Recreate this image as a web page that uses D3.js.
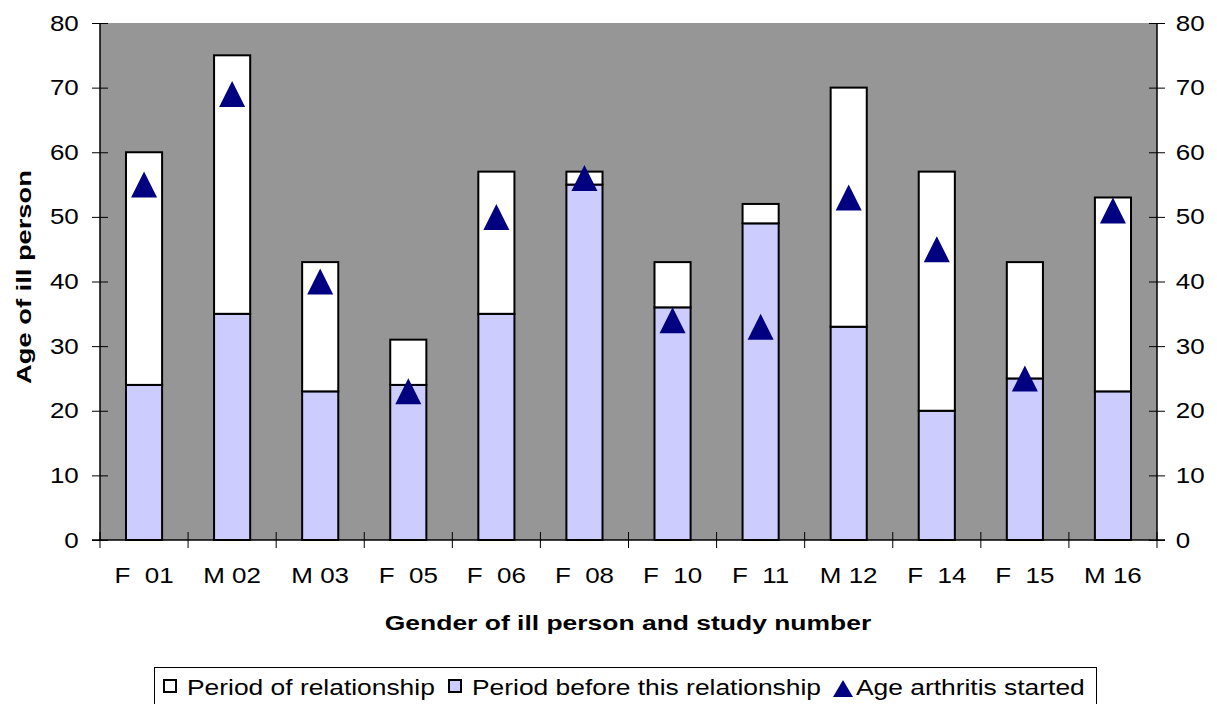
<!DOCTYPE html>
<html><head><meta charset="utf-8">
<script src="https://cdn.jsdelivr.net/npm/d3@7/dist/d3.min.js"></script>
<style>body{margin:0;background:#fff}svg{display:block}text{font-family:"Liberation Sans",Arial,sans-serif;fill:#000}</style>
</head><body><svg id="c" width="1217" height="704"></svg>
<script>
const categories = ["F  01","M 02","M 03","F  05","F  06","F  08","F  10","F  11","M 12","F  14","F  15","M 16"];
const periodBefore = [24,35,23,24,35,55,36,49,33,20,25,23];
const periodRelationship = [36,40,20,7,22,2,7,3,37,37,18,30];
const ageArthritis = [55,69,40,23,50,56,34,33,53,45,25,51];
const yTicks = [0,10,20,30,40,50,60,70,80];
const legendLabels = ["Period of relationship","Period before this relationship","Age arthritis started"];

const SX = 1.18; // horizontal text stretch seen in the reference
const svg = d3.select("#c");
const L=100,R=1157,T=23,B=540;
const x = d3.scaleBand().domain(categories).range([L,R]).paddingInner(0.59).paddingOuter(0.295);
const y = d3.scaleLinear().domain([0,80]).range([B,T]);

function triSymbol(w,h){return {draw(ctx){ctx.moveTo(0,-h/2);ctx.lineTo(w/2,h/2);ctx.lineTo(-w/2,h/2);ctx.closePath();}};}

svg.append("rect").attr("x",L).attr("y",T).attr("width",R-L).attr("height",B-T).attr("fill","#969696");

const data = categories.map((c,i)=>({c,b:periodBefore[i],r:periodRelationship[i],a:ageArthritis[i]}));
const g = svg.append("g");
g.selectAll(".before").data(data).join("rect")
 .attr("x",d=>x(d.c)).attr("width",x.bandwidth())
 .attr("y",d=>y(d.b)).attr("height",d=>y(0)-y(d.b))
 .attr("fill","#ccccff").attr("stroke","#000").attr("stroke-width",2);
g.selectAll(".rel").data(data).join("rect")
 .attr("x",d=>x(d.c)).attr("width",x.bandwidth())
 .attr("y",d=>y(d.b+d.r)).attr("height",d=>y(d.b)-y(d.b+d.r))
 .attr("fill","#ffffff").attr("stroke","#000").attr("stroke-width",2);

const tri = d3.symbol().type(triSymbol(26,26));
g.selectAll(".tri").data(data).join("path")
 .attr("d",tri).attr("transform",d=>`translate(${x(d.c)+x.bandwidth()/2},${y(d.a)})`)
 .attr("fill","#000080");

// axes
const yl = d3.axisLeft(y).tickValues(yTicks).tickSize(8);
const ga = svg.append("g").attr("transform",`translate(${L},0)`).call(yl);
ga.selectAll(".tick line").attr("x2",8).attr("x1",-8);
const yr = d3.axisRight(y).tickValues(yTicks).tickSize(8);
const gr = svg.append("g").attr("transform",`translate(${R},0)`).call(yr);
gr.selectAll(".tick line").attr("x1",-8).attr("x2",8);
[ga,gr].forEach(a=>{a.select(".domain").attr("stroke","#000").attr("stroke-width",1.5).attr("d",`M0,${T}V${B}`);
 a.selectAll(".tick line").attr("stroke","#000");
 a.selectAll("text").style("font-size","22px").style("font-family","Liberation Sans, Arial, sans-serif").attr("transform",`scale(${SX},1)`);});
ga.selectAll("text").attr("x",-18);
gr.selectAll("text").attr("x",16);

const gx = svg.append("g").attr("transform",`translate(0,${B})`).call(d3.axisBottom(x).tickSize(0).tickPadding(27));
gx.select(".domain").attr("stroke","#000").attr("stroke-width",1.5).attr("d",`M${L-8},0H${R+8}`);
gx.selectAll("text").style("font-size","22px").style("font-family","Liberation Sans, Arial, sans-serif").style("white-space","pre").attr("transform",`scale(${SX},1)`);
// category boundary ticks
const bounds = categories.map(c=>x(c)-x.step()*x.paddingInner()/2).concat([R]);
bounds[0]=L;
svg.append("g").selectAll("line").data(bounds).join("line")
 .attr("x1",d=>d).attr("x2",d=>d).attr("y1",B-8).attr("y2",B+8).attr("stroke","#000");

svg.append("text").attr("transform",`translate(628,630) scale(1.26,1)`).attr("text-anchor","middle")
 .style("font-size","21px").style("font-weight","bold").text("Gender of ill person and study number");
svg.append("text").attr("transform","translate(31,277) rotate(-90) scale(1.3,1)").attr("text-anchor","middle")
 .style("font-size","21px").style("font-weight","bold").text("Age of ill person");

// legend
const lg = svg.append("g");
lg.append("rect").attr("x",154.5).attr("y",667.5).attr("width",942).attr("height",45).attr("fill","#fff").attr("stroke","#000").attr("stroke-width",1);
const items = [{t:legendLabels[0],x:164,type:"sq",fill:"#fff"},{t:legendLabels[1],x:449,type:"sq",fill:"#ccccff"},{t:legendLabels[2],x:833,type:"tri"}];
items.forEach(it=>{
 if(it.type==="sq") lg.append("rect").attr("x",it.x).attr("y",680).attr("width",12).attr("height",12).attr("fill",it.fill).attr("stroke","#000").attr("stroke-width",2);
 else lg.append("path").attr("d",d3.symbol().type(triSymbol(20,17))).attr("transform",`translate(${it.x+10},${688.5})`).attr("fill","#000080");
 lg.append("text").attr("transform",`translate(${it.x+23},695) scale(1.2,1)`).style("font-size","22px").text(it.t);
});
</script></body></html>
